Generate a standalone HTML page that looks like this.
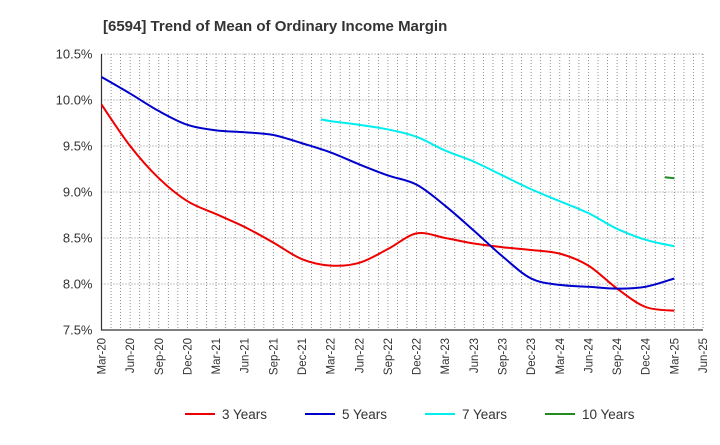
<!DOCTYPE html>
<html><head><meta charset="utf-8"><style>
body{margin:0;background:#fff;font-family:"Liberation Sans",Arial,sans-serif}
</style></head><body>
<svg id="c" width="720" height="440" xmlns="http://www.w3.org/2000/svg">
<text x="103" y="31" font-size="15" font-weight="bold" fill="#333">[6594]  Trend of Mean of Ordinary Income Margin</text>
<g id="grid"></g><g id="axes"></g><g id="series"></g><g id="legend"></g>
</svg>
<script>
const xTickLabels=["Mar-20","Jun-20","Sep-20","Dec-20","Mar-21","Jun-21","Sep-21","Dec-21","Mar-22","Jun-22","Sep-22","Dec-22","Mar-23","Jun-23","Sep-23","Dec-23","Mar-24","Jun-24","Sep-24","Dec-24","Mar-25","Jun-25"];
const yTicks=[7.5,8.0,8.5,9.0,9.5,10.0,10.5];
const seriesNames=["3 Years","5 Years","7 Years","10 Years"];
const seriesColors=["#ee0000","#0000cc","#00eeee","#228b22"];
const qMonths=[0,3,6,9,12,15,18,21,24,27,30,33,36,39,42,45,48,51,54,57,60];
const y3=[9.95,9.5,9.15,8.9,8.76,8.62,8.45,8.27,8.2,8.23,8.38,8.55,8.5,8.44,8.4,8.37,8.33,8.2,7.95,7.75,7.71];
const y5=[10.25,10.07,9.88,9.73,9.67,9.65,9.62,9.53,9.43,9.3,9.18,9.08,8.85,8.58,8.3,8.06,7.99,7.97,7.95,7.97,8.06];
const m7=[23,24,27,30,33,36,39,42,45,48,51,54,57,60];
const y7=[9.79,9.77,9.73,9.68,9.6,9.45,9.33,9.18,9.03,8.9,8.77,8.6,8.48,8.41];
const m10=[59,60];
const y10=[9.16,9.15];
const L=101.5,R=703,T=54,B=330,NM=63;
const X=m=>L+(R-L)*m/NM;
const Y=v=>B-(v-7.5)/3*(B-T);
const NS="http://www.w3.org/2000/svg";
function mk(p,t,a){const e=document.createElementNS(NS,t);for(const k in a)e.setAttribute(k,a[k]);p.appendChild(e);return e;}
const grid=document.getElementById('grid'),axes=document.getElementById('axes'),ser=document.getElementById('series'),leg=document.getElementById('legend');
for(let m=1;m<=NM;m++){const g=mk(grid,'line',{x1:X(m),x2:X(m),y1:T,y2:B,stroke:'#777','stroke-dasharray':'1,2','stroke-width':0.8});

}
yTicks.forEach(v=>{const g=mk(grid,'line',{x1:L,x2:R,y1:Y(v),y2:Y(v),stroke:'#666','stroke-dasharray':'1,2','stroke-width':0.8});


const t=mk(axes,'text',{x:L-9,y:Y(v)+4.5,'text-anchor':'end','font-size':13,fill:'#333'});t.textContent=v.toFixed(1)+'%';

});
xTickLabels.forEach((s,i)=>{const x=X(i*3);const t=mk(axes,'text',{x:0,y:0,'text-anchor':'end','font-size':11.5,fill:'#333',transform:`translate(${x+4},${B+8}) rotate(-90)`});t.textContent=s;

});
const ax=mk(axes,'path',{d:`M${L},${T}V${B}H${R}`,fill:'none',stroke:'#333','stroke-width':1.2});


function smooth(pts){let d=`M${pts[0][0]},${pts[0][1]}`;for(let i=0;i<pts.length-1;i++){const p0=pts[i-1]||pts[i],p1=pts[i],p2=pts[i+1],p3=pts[i+2]||p2;
d+=`C${p1[0]+(p2[0]-p0[0])/6},${p1[1]+(p2[1]-p0[1])/6} ${p2[0]-(p3[0]-p1[0])/6},${p2[1]-(p3[1]-p1[1])/6} ${p2[0]},${p2[1]}`;}return d;}
const data=[[qMonths,y3],[qMonths,y5],[m7,y7],[m10,y10]];
data.forEach(([ms,vs],i)=>{const p=mk(ser,'path',{d:smooth(ms.map((m,j)=>[X(m),Y(vs[j])])),fill:'none',stroke:seriesColors[i],'stroke-width':2});

});
const lx=[185,305,425,545];
seriesNames.forEach((n,i)=>{const g=mk(leg,'g',{});


mk(g,'line',{x1:lx[i],x2:lx[i]+30,y1:414,y2:414,stroke:seriesColors[i],'stroke-width':2});
const t=mk(g,'text',{x:lx[i]+37,y:419,'font-size':13.5,fill:'#333'});t.textContent=n;});
</script>
</body></html>
